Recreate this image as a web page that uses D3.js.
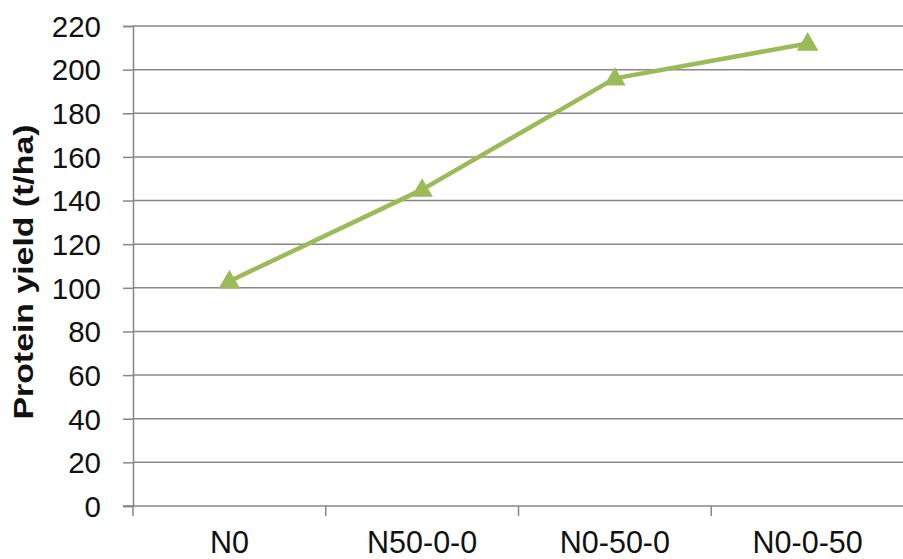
<!DOCTYPE html>
<html>
<head>
<meta charset="utf-8">
<script src="https://cdn.jsdelivr.net/npm/d3@7"></script>
<style>
  html, body { margin: 0; padding: 0; background: #fff; }
  svg { display: block; }
  text { font-family: "Liberation Sans", Arial, sans-serif; fill: #111; }
</style>
</head>
<body>
<svg id="chart" width="903" height="559"></svg>
<script>
const categories = ["N0", "N50-0-0", "N0-50-0", "N0-0-50"];
const proteinYield = [103, 145, 196, 212];
const yTicks = [0, 20, 40, 60, 80, 100, 120, 140, 160, 180, 200, 220];
const yTitle = "Protein yield (t/ha)";

const svg = d3.select("#chart");
const mLeft = 133, mRight = 904, mTop = 26, mBottom = 506;
const gridColor = "#878787";

const x = d3.scaleBand().domain(categories).range([mLeft, mRight]).padding(0);
const y = d3.scaleLinear().domain([0, 220]).range([mBottom, mTop]);

// horizontal gridlines + y ticks
const yAxis = d3.axisLeft(y).tickValues(yTicks).tickSize(10).tickPadding(22).tickFormat(d3.format("d"));
const gy = svg.append("g").attr("transform", `translate(${mLeft},0)`).call(yAxis);
gy.select(".domain").attr("stroke", gridColor).attr("stroke-width", 1.5);
gy.selectAll(".tick line").attr("stroke", gridColor).attr("stroke-width", 1.5);
gy.selectAll(".tick text").style("font-size", "29.5px").attr("fill", "#111").attr("dy", "0.35em");

svg.append("g").selectAll("line").data(yTicks.filter(d => d > 0)).join("line")
  .attr("x1", mLeft).attr("x2", mRight)
  .attr("y1", d => y(d)).attr("y2", d => y(d))
  .attr("stroke", gridColor).attr("stroke-width", 1.5);

// x axis
const xAxis = d3.axisBottom(x).tickSize(0).tickPadding(25);
const gx = svg.append("g").attr("transform", `translate(0,${mBottom})`).call(xAxis);
gx.select(".domain").remove();
svg.append("line").attr("x1", mLeft - 10).attr("x2", mRight).attr("y1", mBottom).attr("y2", mBottom)
  .attr("stroke", gridColor).attr("stroke-width", 1.5);
gx.selectAll(".tick text").style("font-size", "30.5px").attr("fill", "#111");
// boundary ticks between categories
const bounds = categories.map(c => x(c)).concat([x(categories[categories.length - 1]) + x.bandwidth()]);
svg.append("g").selectAll("line").data(bounds).join("line")
  .attr("x1", d => d).attr("x2", d => d)
  .attr("y1", mBottom).attr("y2", mBottom + 10)
  .attr("stroke", gridColor).attr("stroke-width", 1.5);

// y title
svg.append("text")
  .attr("transform", `translate(33,${(mTop + mBottom) / 2 + 6}) rotate(-90)`)
  .attr("text-anchor", "middle")
  .attr("textLength", 295).attr("lengthAdjust", "spacingAndGlyphs")
  .style("font-size", "27px").style("font-weight", "bold")
  .text(yTitle);

// line
const green = "#9BBB59";
const cx = c => x(c) + x.bandwidth() / 2;
const line = d3.line().x((d, i) => cx(categories[i])).y(d => y(d));
svg.append("path").datum(proteinYield)
  .attr("d", line).attr("fill", "none").attr("stroke", green).attr("stroke-width", 4.5)
  .attr("stroke-linejoin", "round");

const tri = d3.symbol().type(d3.symbolTriangle).size(200);
svg.append("g").selectAll("path").data(proteinYield).join("path")
  .attr("d", tri())
  .attr("transform", (d, i) => `translate(${cx(categories[i])},${y(d) + 1})`)
  .attr("fill", green);
</script>
</body>
</html>
